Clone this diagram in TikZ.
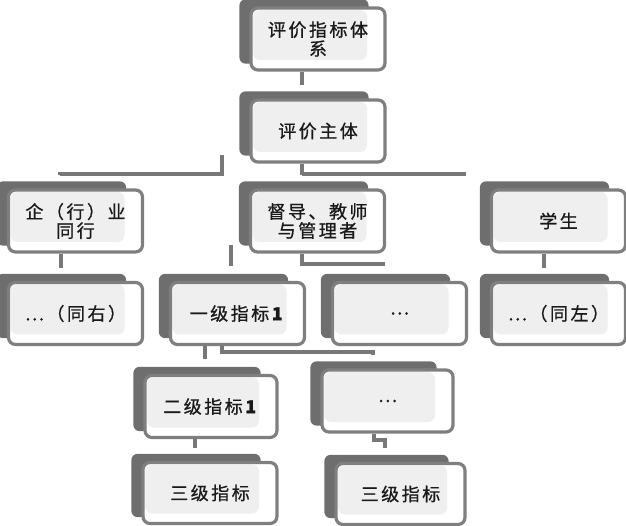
\documentclass[tikz,border=0pt]{standalone}
\usepackage{fontspec}
\setmainfont{Noto Sans CJK SC}[LetterSpace=14, FakeBold=0.8]
\usetikzlibrary{backgrounds}

\definecolor{boxline}{HTML}{7F7F7F}
\definecolor{boxback}{HTML}{6E6E6E}
\definecolor{boxin}{HTML}{EFEFEF}
\definecolor{linkgray}{HTML}{787878}

\tikzset{
  idx/.style={draw=boxline, line width=3.2pt, rounded corners=7pt, fill=white,
    minimum width=134pt, minimum height=62pt, inner sep=0pt, align=center,
    text=black!90, font=\fontsize{18}{19}\selectfont,
    path picture={\fill[boxin] ([shift={(2pt,-2pt)}]path picture bounding box.north west)
      rectangle ([shift={(-18pt,10pt)}]path picture bounding box.south east);}},
  link/.style={draw=linkgray, line width=4pt},
  backbox/.style={fill=boxback, rounded corners=6pt}
}

\begin{document}
\begin{tikzpicture}[x=1pt,y=-1pt]
    \useasboundingbox (0,0) rectangle (626,526);
    % index boxes
    \node[idx] (top) at (318,39) {评价指标体\\系};
    \node[idx] (main) at (318,131) {评价主体};
    \node[idx] (ent) at (75.5,221) {企（行）业\\同行};
    \node[idx] (sup) at (317.5,221) {督导、教师\\与管理者};
    \node[idx] (stu) at (558.5,221) {学生};
    \node[idx] (samer) at (75.5,313.5) {…（同右）};
    \node[idx] (lvl1) at (237.5,313.5) {一级指标\textbf{1}};
    \node[idx] (dots1) at (399.5,313.5) {…};
    \node[idx] (samel) at (558.5,313.5) {…（同左）};
    \node[idx, minimum width=132pt] (lvl2) at (211,406.5) {二级指标\textbf{1}};
    \node[idx, minimum width=131pt] (dots2) at (387.5,401) {…};
    \node[idx, minimum height=61pt] (lvl3a) at (210,493) {三级指标};
    \node[idx, minimum width=129pt, minimum height=61pt] (lvl3b) at (400.5,494) {三级指标};
    \coordinate (mainL) at ([xshift=-96pt,yshift=9pt]main.south);
    \begin{pgfonlayer}{background}
        % connectors
        \draw[link] ([xshift=-16pt]top.south) -- ([xshift=-16pt,yshift=13pt]main.north);
        \draw[link] (mainL) -- ++(0,19) -| ([xshift=-15.5pt,yshift=13pt]ent.north);
        \draw[link] ([xshift=-16pt]main.south) -- ([xshift=-15.5pt,yshift=13pt]sup.north);
        \draw[link] ([xshift=-16pt,yshift=-10pt]main.south) -| ([xshift=-94.5pt,yshift=12pt]stu.north);
        \draw[link] ([xshift=-14.5pt]ent.south) -- ([xshift=-14.5pt,yshift=13pt]samer.north);
        \draw[link] ([xshift=-14.5pt]stu.south) -- ([xshift=-14.5pt,yshift=13pt]samel.north);
        \draw[link] ([xshift=-86.5pt,yshift=9pt]sup.south) -- ([xshift=-6.5pt,yshift=15pt]lvl1.north);
        \draw[link] ([xshift=-15.5pt]sup.south) -- ++(0,10) -| ([xshift=-16.5pt,yshift=15pt]dots1.north);
        \draw[link] ([xshift=-32.5pt]lvl1.south) -- ([xshift=-6pt,yshift=15pt]lvl2.north);
        \draw[link] ([xshift=-15.5pt]lvl1.south) -- ++(0,6) -| ([xshift=-14.5pt,yshift=13pt]dots2.north);
        \draw[link] ([xshift=-16pt]lvl2.south) -- ([xshift=-15pt,yshift=13pt]lvl3a.north);
        \draw[link] ([xshift=-13.5pt]dots2.south) -- ++(0,6) -| ([xshift=-15.5pt,yshift=14pt]lvl3b.north);
        % dark boxes behind
        \foreach \n in {top,main,ent,sup,stu,samer,lvl1,dots1,samel,lvl2,dots2,lvl3a,lvl3b}
            \fill[backbox] ([shift={(-10pt,7pt)}]\n.north west) rectangle ([shift={(-18pt,8pt)}]\n.south east);
    \end{pgfonlayer}
\end{tikzpicture}
\end{document}
